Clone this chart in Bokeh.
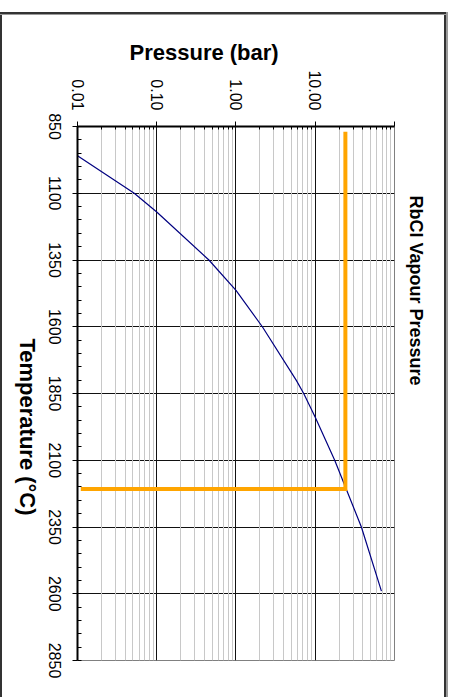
import math
from bokeh.plotting import figure
from bokeh.models import Range1d, FixedTicker, Title, CustomJSTickFormatter, InlineStyleSheet
from bokeh.embed import file_html
from bokeh.resources import INLINE

# ---------------- data ----------------
temperature_c = [960, 1100, 1170, 1350, 1464, 1600, 1801, 1850, 1939, 2100, 2350, 2590]
pressure_bar = [0.01, 0.052, 0.1, 0.455, 1.0, 2.15, 5.77, 7.15, 10.0, 17.6, 38.2, 68.4]

marker_temp = [870, 2208, 2208]
marker_pres = [24.0, 24.0, 0.011]

temp_ticks = [850, 1100, 1350, 1600, 1850, 2100, 2350, 2600, 2850]
temp_minor = list(range(850, 2851, 50))
pres_ticks = [0.01, 0.1, 1, 10, 100]
pres_minor = [m * d for d in (0.01, 0.1, 1, 10) for m in range(2, 10)]

title_text = "RbCl Vapour Pressure"
x_title = "Temperature (°C)"
y_title = "Pressure (bar)"

FONT = "Liberation Sans"

# The reference is the classic chart turned a quarter turn clockwise.
# The figure element (454 x 697 on the page) is rotated by CSS, so Bokeh
# measures it as an upright 697 x 454 chart and draws it upright.
W, H = 697, 454          # upright chart size
FR_L, FR_T, FR_W, FR_H = 126, 59, 534, 317

border_css = ", ".join([
    "linear-gradient(#333333,#333333) 12px 8px / 2px 446px no-repeat",
    "linear-gradient(#9a9a9a,#9a9a9a) 14px 8px / 1px 446px no-repeat",
    "linear-gradient(#333333,#333333) 12px 8px / 685px 2px no-repeat",
    "linear-gradient(#9a9a9a,#9a9a9a) 12px 6px / 685px 2px no-repeat",
    "linear-gradient(#333333,#333333) 12px 452px / 685px 2px no-repeat",
])

rotate_css = InlineStyleSheet(css=f"""
:host {{
  overflow: visible !important;
  position: relative;
  transform-origin: 0 0;
  transform: translate({H}px, 0px) rotate(90deg);
}}
:host::after {{
  content: "";
  position: absolute;
  left: 0; top: 0;
  width: {W}px; height: {H}px;
  pointer-events: none;
  background: {border_css};
}}
.bk-Canvas {{ overflow: visible !important; }}
""")

p = figure(
    width=H, height=W,
    y_axis_type="log",
    x_range=Range1d(850, 2850), y_range=Range1d(0.01, 100),
    output_backend="svg", toolbar_location=None,
    min_border_left=FR_L, min_border_top=FR_T,
    min_border_right=W - FR_L - FR_W, min_border_bottom=H - FR_T - FR_H,
    background_fill_color="white", border_fill_color="white",
)
p.stylesheets = [rotate_css]
p.outline_line_color = "#808080"
p.outline_line_width = 1

# chart title (above in the upright chart -> right side after rotation)
p.title.text = title_text
p.title.align = "left"
p.title.offset = 69
p.title.standoff = 22
p.title.text_font = FONT
p.title.text_font_size = "18px"
p.title.text_font_style = "bold"
p.title.text_color = "black"

xt = FixedTicker(ticks=temp_ticks, minor_ticks=temp_minor)
yt = FixedTicker(ticks=pres_ticks, minor_ticks=pres_minor)

xa = p.xaxis[0]
xa.ticker = xt
xa.major_label_text_font = FONT
xa.major_label_text_font_size = "16px"
xa.major_label_text_color = "black"
xa.major_label_standoff = 12
xa.major_tick_out = 5
xa.major_tick_in = 0
xa.minor_tick_out = 0
xa.minor_tick_in = 4
xa.axis_line_width = 2
xa.axis_line_color = "black"
xa.major_tick_line_color = "black"
xa.minor_tick_line_color = "black"

ya = p.yaxis[0]
ya.ticker = yt
ya.formatter = CustomJSTickFormatter(code="return tick >= 99 ? '' : tick.toFixed(2);")
ya.major_label_text_font = FONT
ya.major_label_text_font_size = "16px"
ya.major_label_text_color = "black"
ya.major_label_standoff = 11
ya.major_tick_out = 5
ya.major_tick_in = 0
ya.minor_tick_out = 0
ya.minor_tick_in = 3
ya.axis_line_width = 2
ya.axis_line_color = "black"
ya.major_tick_line_color = "black"
ya.minor_tick_line_color = "black"

p.xgrid.ticker = xt
p.xgrid.grid_line_color = "#111111"
p.xgrid.grid_line_width = 1
p.ygrid.ticker = yt
p.ygrid.grid_line_color = "#111111"
p.ygrid.grid_line_width = 1
p.ygrid.minor_grid_line_color = "#c8c8c8"
p.ygrid.minor_grid_line_width = 1

# axis titles placed as titles so they can be offset like the reference
p.add_layout(Title(text=y_title, align="left", offset=52, standoff=5, text_font=FONT,
                   text_font_size="22px", text_font_style="bold", text_color="black"), "left")
p.add_layout(Title(text=x_title, align="left", offset=212, standoff=8, text_font=FONT,
                   text_font_size="22px", text_font_style="bold", text_color="black"), "below")

# curve and marker lines
p.line(temperature_c, pressure_bar, line_color="#000080", line_width=1.2)
p.line(marker_temp, marker_pres, line_color="#FFA500", line_width=4, line_join="miter")

open("out.html", "w").write(file_html(p, INLINE))
